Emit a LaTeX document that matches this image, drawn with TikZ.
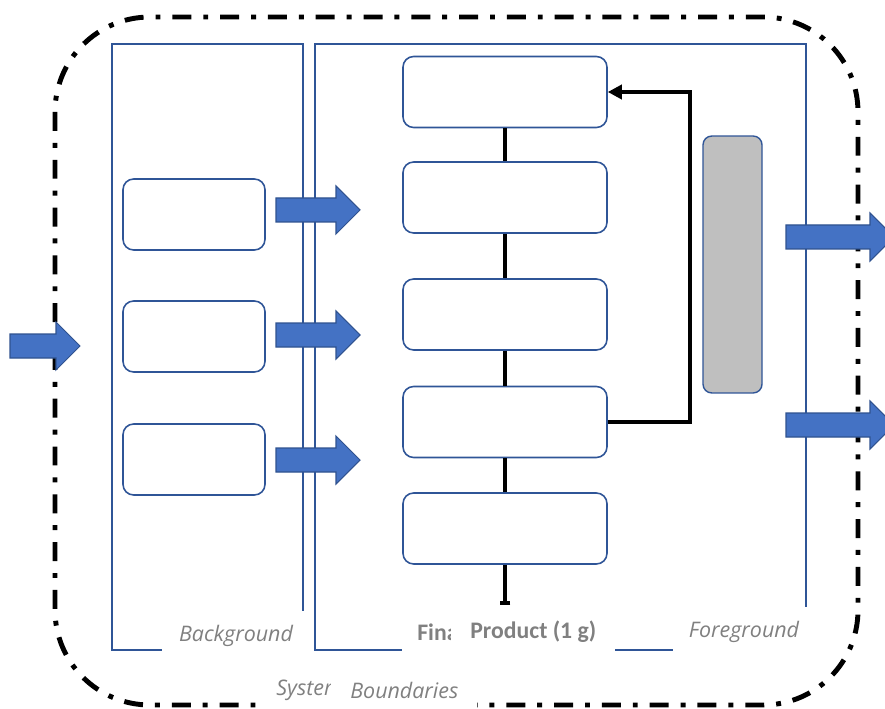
\documentclass[tikz,border=0pt]{standalone}
\usepackage{fontspec}
\setmainfont{Carlito}
\newfontfamily\zonefont{Open Sans}
\usetikzlibrary{arrows.meta}
\usetikzlibrary{positioning}

\definecolor{boxblue}{HTML}{2F5597}
\definecolor{arrowblue}{HTML}{4472C4}
\definecolor{arrowedge}{HTML}{2F528F}
\definecolor{tagtext}{HTML}{808080}
\definecolor{unitgray}{HTML}{BFBFBF}

\begin{document}
\begin{tikzpicture}[x=0.02cm, y=-0.02cm,
  stage/.style={draw=boxblue, line width=0.9pt, rounded corners=6pt, minimum width=4.08cm, minimum height=1.42cm},
  source/.style={stage, minimum width=2.84cm},
  zone/.style={draw=boxblue, line width=1.1pt},
  boundary/.style={line width=2.8pt, rounded corners=1.9cm, dash pattern=on 10.8pt off 6.8pt on 2.8pt off 6.8pt},
  flowarrow/.style={fill=arrowblue, draw=arrowedge, line width=0.6pt},
  link/.style={line width=2.3pt},
  tag/.style={fill=white, text=tagtext, inner sep=0pt, minimum height=1cm},
  zonetag/.style={tag, font=\fontsize{12.2}{14}\zonefont\itshape},
  pics/flow/.style={code={
    \draw[flowarrow] (0,-12) -- ({#1-24},-12) -- ({#1-24},-24) -- (#1,0)
      -- ({#1-24},24) -- ({#1-24},12) -- (0,12) -- cycle;}}]
\useasboundingbox (0,0) rectangle (885,709);

% system boundary and the two zones
\draw[boundary] (55,17) rectangle (858,705);
\draw[zone] (112,44) rectangle (303,650);
\draw[zone] (315,44) rectangle (806,650);

% background processes
\node[source] (s1) at (194,214.5) {};
\node[source] (s2) at (194,336.5) {};
\node[source] (s3) at (194,459.5) {};

% foreground chain
\node[stage] (c1) at (505,92) {};
\node[stage] (c2) at (505,197.5) {};
\node[stage] (c3) at (505,314.5) {};
\node[stage] (c4) at (505,422) {};
\node[stage] (c5) at (505,528.5) {};
\coordinate (out) at (505,605);
\coordinate (turn) at (690,92);

\draw[link] (c1) -- (c2);
\draw[link] (c2) -- (c3);
\draw[link] (c3) -- (c4);
\draw[link] (c4) -- (c5);
\draw[link, -{Bar[width=6pt]}] (c5) -- (out);
\draw[link, -{Triangle[length=8pt, width=8pt]}] (c4.east) -| (turn) -- (c1.east);

\node[draw=boxblue, line width=0.8pt, fill=unitgray, rounded corners=5pt,
  minimum width=1.18cm, minimum height=5.14cm] (unit) at (732.5,264.5) {};

% flows in and out
\pic at (10,346) {flow=70};
\pic at (276,210) {flow=84};
\pic at (276,335) {flow=84};
\pic at (276,460) {flow=84};
\pic at (786,237) {flow=108};
\pic at (786,425) {flow=108};

% labels
\node[zonetag, minimum width=2.96cm] (bg) at (236,636) {Background};
\node[zonetag, minimum width=2.84cm] (fg) at (744,632) {Foreground};
\node[tag, font=\fontsize{13.5}{16}\bfseries, anchor=west, inner xsep=0.3cm] (fin) at (402,632) {Final};
\node[tag, font=\fontsize{13.5}{16}\bfseries, anchor=west, inner xsep=0.38cm] (prod) at (451,632) {Product (1 g)};
\node[zonetag, anchor=north west, inner xsep=0.32cm, minimum height=0.92cm] (sys) at (260,667) {System};
\node[zonetag, anchor=north west, inner xsep=0.38cm, minimum height=0.92cm] (bnd) at (331,667) {Boundaries};
\end{tikzpicture}
\end{document}
